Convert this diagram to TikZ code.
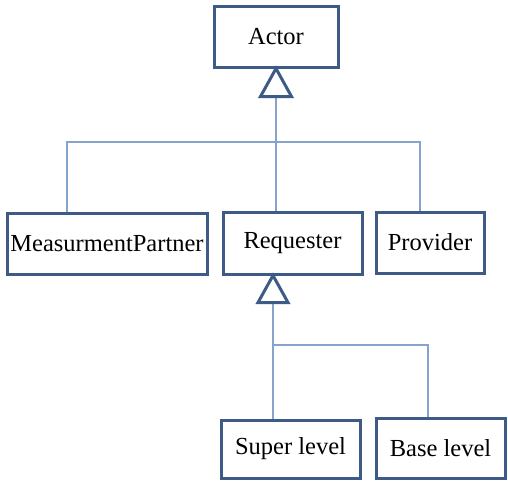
\documentclass[tikz,border=0pt]{standalone}
\usepackage{fontspec}
\setmainfont{Liberation Serif}
\usetikzlibrary{calc}
\definecolor{boxc}{HTML}{3E5B87}
\definecolor{connc}{HTML}{86A4CB}
\begin{document}
\begin{tikzpicture}[x=1pt,y=-1pt,
  box/.style={draw=boxc,line width=3pt,fill=white,inner sep=0pt,
    font=\fontsize{24.5}{29}\selectfont},
  conn/.style={draw=connc,line width=1.4pt},
  gen/.style={draw=boxc,line width=3pt,fill=white,line join=miter}]
\useasboundingbox (0,0) rectangle (508,482);
% boxes
\node[box,minimum width=124pt,minimum height=61pt] (actor) at (276,36.5) {Actor};
\node[box,minimum width=200pt,minimum height=61pt] (mp) at (107,243.5) {MeasurmentPartner};
\node[box,minimum width=139pt,minimum height=62pt] (req) at (292.5,243) {Requester};
\node[box,minimum width=108pt,minimum height=61pt] (prov) at (430,242.5) {Provider};
\node[box,minimum width=139pt,minimum height=58pt] (super) at (290.5,449) {Super level};
\node[box,minimum width=129pt,minimum height=60pt] (base) at (440.5,448) {Base level};
% junction coordinates
\coordinate (t1) at ($(actor.south)+(0,28)$);
\coordinate (h1l) at (67,142);
\coordinate (h1r) at (420,142);
\coordinate (t2) at (273,302);
\coordinate (h2) at (273,345);
\coordinate (h2r) at (428,345);
% connectors
\draw[conn] (t1) -- (t1 |- req.north);
\draw[conn] (mp.north -| h1l) -- (h1l) -- (h1r) -- (prov.north -| h1r);
\draw[conn] (t2) -- (t2 |- super.north);
\draw[conn] (h2) -- (h2r) -- (base.north -| h2r);
% generalization triangles
\draw[gen] (actor.south) -- ++(-15.5,28) -- ++(31,0) -- cycle;
\draw[gen] (t2 |- req.south) -- ++(-15,27) -- ++(30,0) -- cycle;
\end{tikzpicture}
\end{document}
